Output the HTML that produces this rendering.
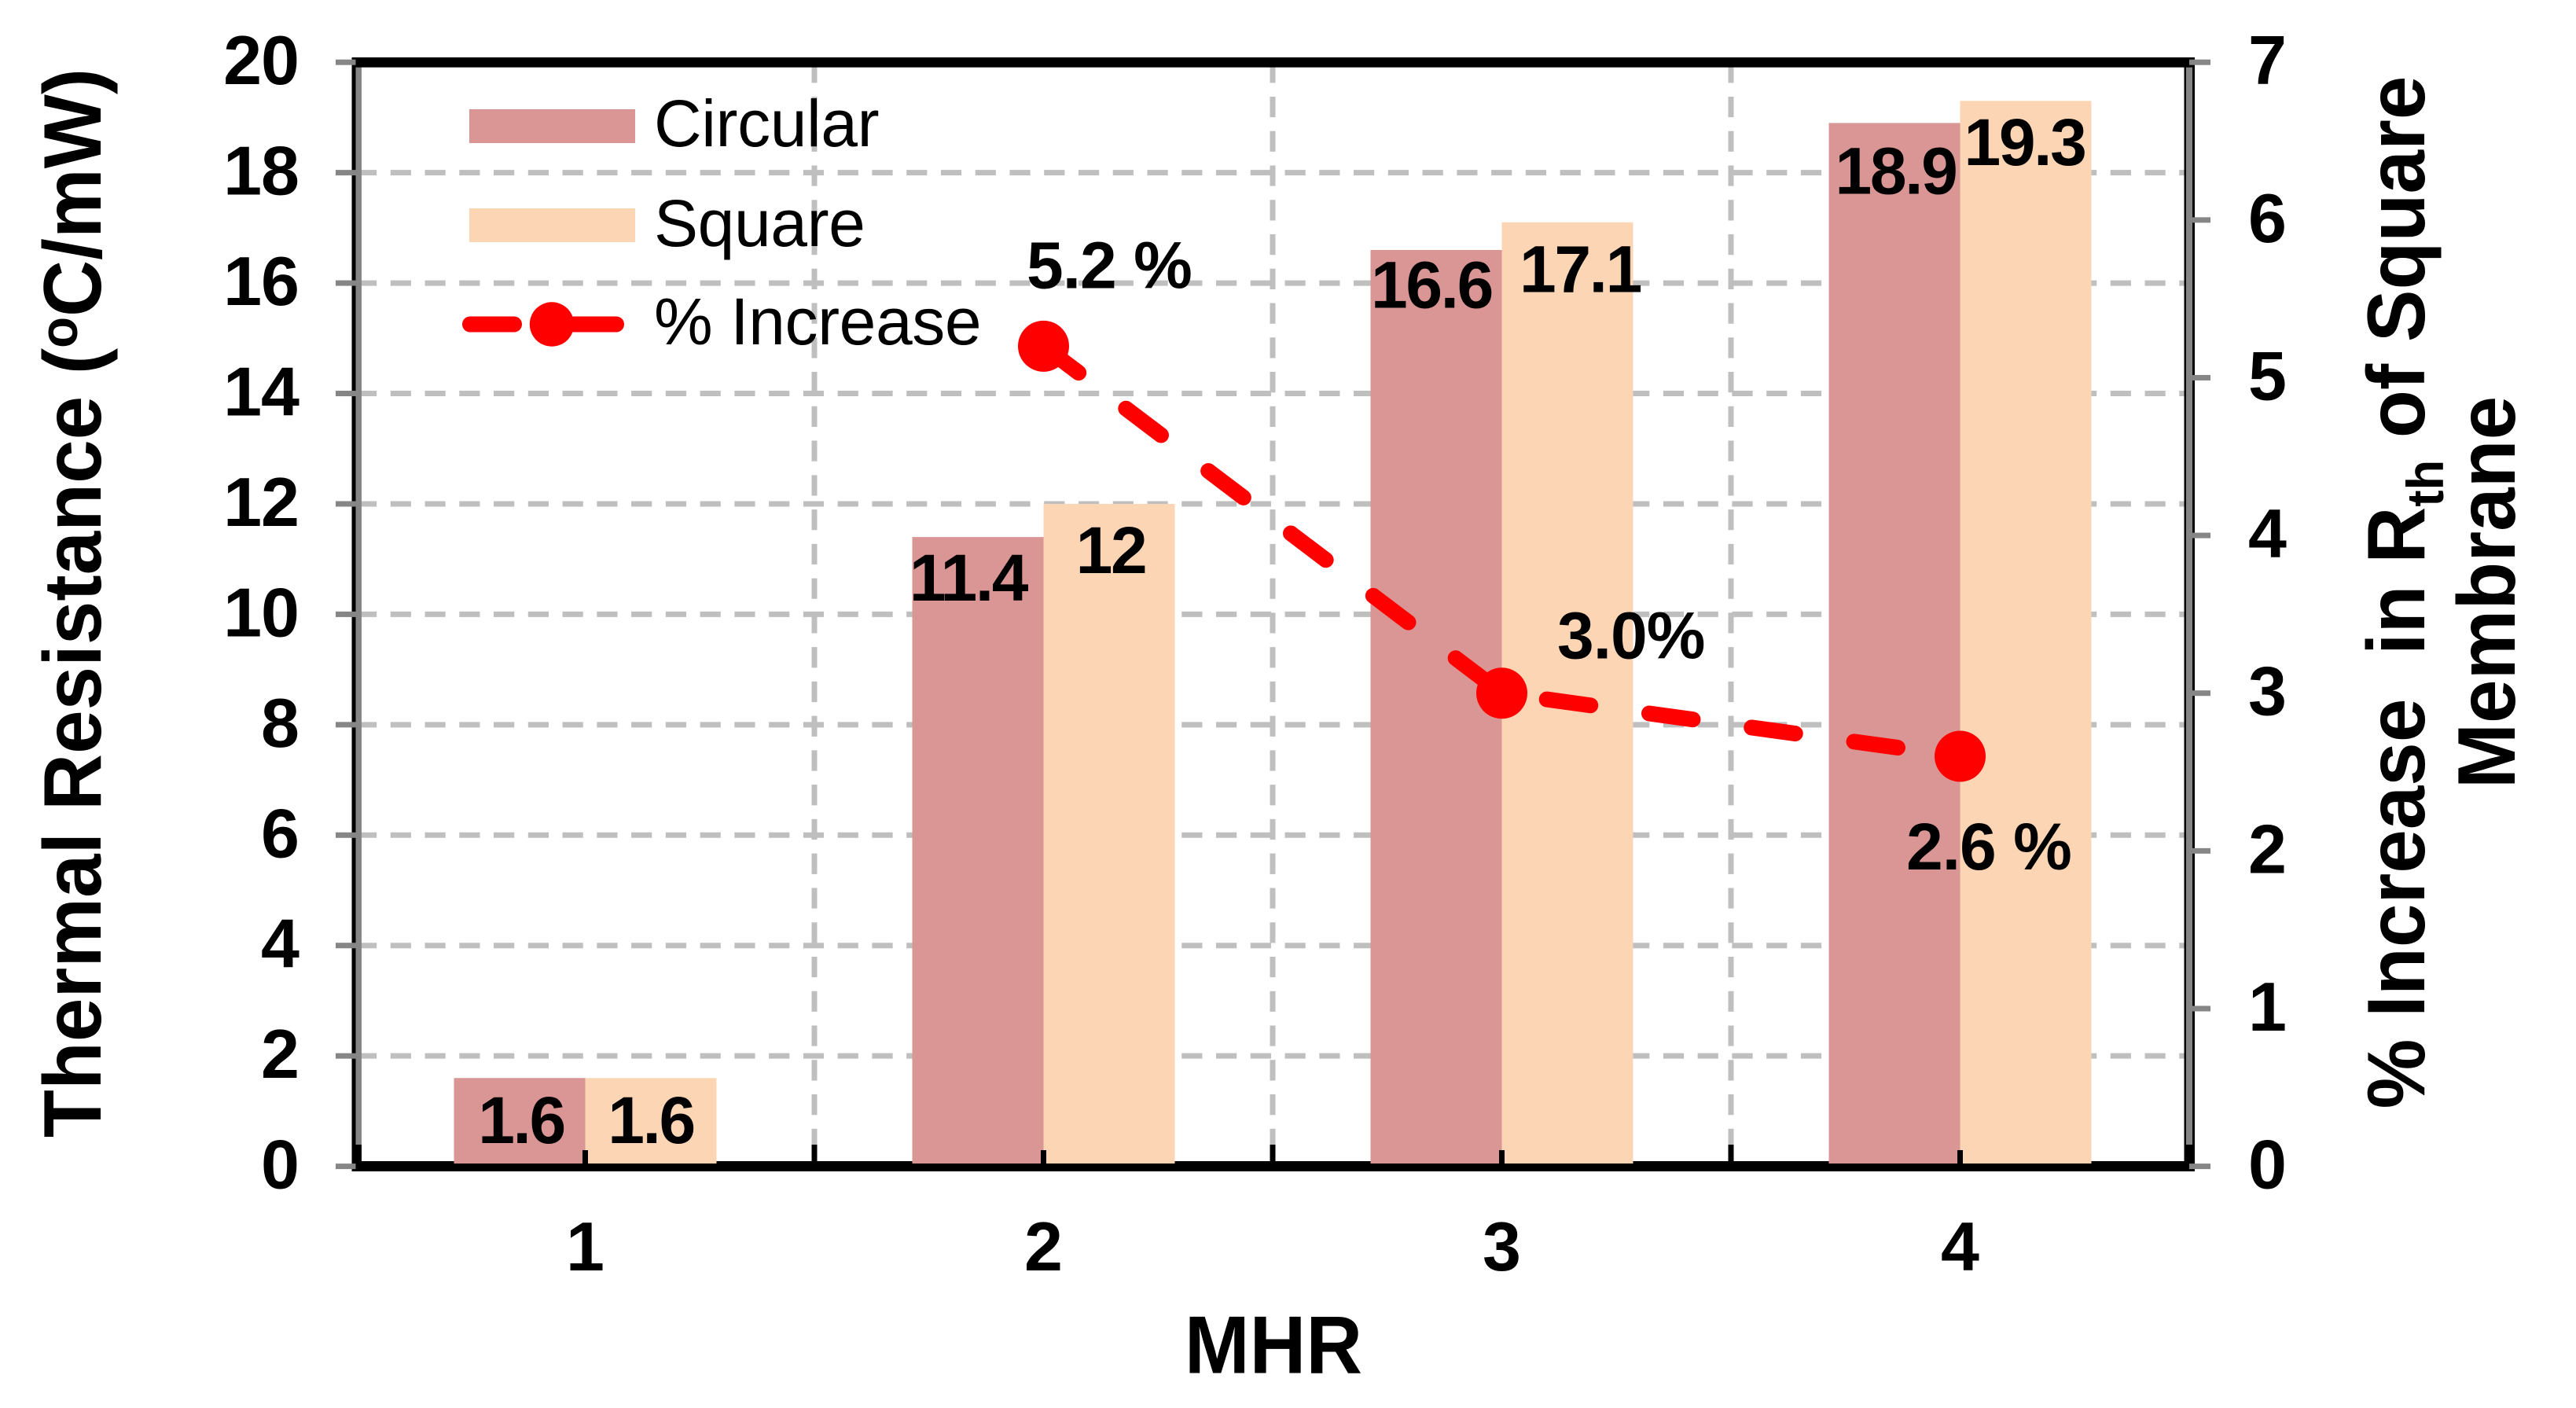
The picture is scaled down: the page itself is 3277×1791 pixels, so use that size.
<!DOCTYPE html>
<html>
<head>
<meta charset="utf-8">
<title>Thermal Resistance vs MHR</title>
<style>
html,body{margin:0;padding:0;background:#fff;}
svg{display:block;}
text{font-family:"Liberation Sans",Arial,sans-serif;fill:#000;white-space:pre;}
.b{font-weight:bold;}
</style>
</head>
<body>
<svg id="chart" xmlns="http://www.w3.org/2000/svg" width="3277" height="1791" viewBox="0 0 3277 1791">
  <rect x="0" y="0" width="3277" height="1791" fill="#fff"/>
  <g id="grid"></g>
  <g id="bars"></g>
  <g id="frame">
    <rect x="447.5" y="73" width="12.5" height="1417" fill="#000"/>
    <rect x="452.5" y="79" width="7.5" height="1377" fill="#868686"/>
    <rect x="2778.5" y="73" width="13.5" height="1417" fill="#000"/>
    <rect x="2781" y="79" width="8" height="1377" fill="#868686"/>
    <rect x="447.5" y="73" width="2344.5" height="12.7" fill="#000"/>
  </g>
  <g id="baseline"></g>
  <g id="ticks"></g>
  <g id="line"></g>
  <g id="labels"></g>

  <text class="b" font-size="104" text-anchor="middle" transform="translate(128 767) rotate(-90) scale(0.96 1)">Thermal Resistance (<tspan font-size="68" dy="-30">o</tspan><tspan dy="30">C/mW)</tspan></text>
  <text class="b" font-size="104" text-anchor="middle" transform="translate(1620 1746.7) scale(0.955 1)">MHR</text>
  <text class="b" font-size="104" text-anchor="middle" transform="translate(3084 753.5) rotate(-90) scale(0.96 1)">% Increase  in R<tspan font-size="66" dy="24">th</tspan><tspan dy="-24"> of Square</tspan></text>
  <text class="b" font-size="104" text-anchor="middle" transform="translate(3199 753.5) rotate(-90) scale(0.96 1)">Membrane</text>

  <g>
    <rect x="597" y="139" width="211" height="43" fill="#d99694"/>
    <text font-size="84" x="832" y="186" letter-spacing="-0.4">Circular</text>
    <rect x="597" y="265" width="211" height="43" fill="#fcd5b5"/>
    <text font-size="84" x="832" y="313" letter-spacing="-0.4">Square</text>
    <line x1="598" y1="412.5" x2="784" y2="412.5" stroke="#ff0000" stroke-width="20" stroke-linecap="round" stroke-dasharray="56 75.5"/>
    <circle cx="702" cy="412.5" r="28.2" fill="#ff0000"/>
    <text font-size="84" x="832" y="438" letter-spacing="-0.4">% Increase</text>
  </g>
</svg>

<script>
// ---- chart data ----
const categories = ['1', '2', '3', '4'];
const circularValues = [1.6, 11.4, 16.6, 18.9];
const squareValues = [1.6, 12, 17.1, 19.3];
const circularLabels = ['1.6', '11.4', '16.6', '18.9'];
const squareLabels = ['1.6', '12', '17.1', '19.3'];
const increaseCategories = [1, 2, 3];
const increaseValues = [5.2, 3.0, 2.6];
const increaseLabels = ['5.2 %', '3.0%', '2.6 %'];
const leftTickLabels = [0, 2, 4, 6, 8, 10, 12, 14, 16, 18, 20];
const rightTickLabels = [0, 1, 2, 3, 4, 5, 6, 7];

// ---- layout ----
const NS = 'http://www.w3.org/2000/svg';
const plotLeft = 453, plotRight = 2785, plotTop = 79.2, plotBottom = 1483.6;
const leftMax = 20, rightMax = 7;
const barWidth = 167;
const catWidth = (plotRight - plotLeft) / categories.length;
const yLeft = v => plotBottom - (v / leftMax) * (plotBottom - plotTop);
const yRight = v => plotBottom - (v / rightMax) * (plotBottom - plotTop);
const xCat = i => plotLeft + catWidth * (i + 0.5);
const xEdge = i => plotLeft + catWidth * i;

// hand placement of the printed labels relative to their marks, as in the source figure
const circNudge = [[2, 83], [-12.5, 81], [-6, 73.5], [1.5, 90]];
const squareNudge = [[0, 83], [2, 88], [16, 88.6], [-1.5, 81.4]];
const incNudge = [[-21.5, -74], [70.5, -44], [-68.5, 144]];

function mk(parent, tag, attrs, txt) {
  const el = document.createElementNS(NS, tag);
  for (const k in attrs) el.setAttribute(k, attrs[k]);
  if (txt !== undefined) el.textContent = txt;
  document.getElementById(parent).appendChild(el);
  return el;
}
let el;

// horizontal gridlines
leftTickLabels.forEach(v => {
  if (v === 0 || v === leftMax) return;
  el = mk('grid', 'line', {x1: plotLeft, x2: 2779, y1: yLeft(v), y2: yLeft(v), stroke: '#bfbfbf', 'stroke-width': 7, 'stroke-dasharray': '26.2 17.56'});
  
  
});

// vertical gridlines
for (let i = 1; i < categories.length; i++) {
  el = mk('grid', 'line', {x1: xEdge(i), x2: xEdge(i), y1: plotTop, y2: 1456, stroke: '#bfbfbf', 'stroke-width': 7, 'stroke-dasharray': '26.2 17.56'});
  
  
}

// x axis band
el = mk('baseline', 'rect', {x: 447.5, y: 1477, width: 2344.5, height: 13, fill: '#000'});



// bars
categories.forEach((c, i) => {
  const tc = yLeft(circularValues[i]);
  el = mk('bars', 'rect', {x: xCat(i) - barWidth, y: tc, width: barWidth, height: 1480 - tc, fill: '#d99694'});
  
  
  const ts = yLeft(squareValues[i]);
  el = mk('bars', 'rect', {x: xCat(i), y: ts, width: barWidth, height: 1480 - ts, fill: '#fcd5b5'});
  
  
});
// the x band is partly overlapped by the bars, so the bars go above it
document.getElementById('chart').insertBefore(document.getElementById('baseline'), document.getElementById('bars'));
document.getElementById('chart').insertBefore(document.getElementById('frame'), document.getElementById('bars'));

// y ticks left
leftTickLabels.forEach(v => {
  el = mk('ticks', 'rect', {x: 427, y: yLeft(v) - 3.5, width: 25.5, height: 7, fill: '#868686'});
  
  
  el = mk('labels', 'text', {x: 380, y: yLeft(v) + 28, 'font-size': 88, 'text-anchor': 'end', 'letter-spacing': -1, class: 'b'}, String(v));
  
  
});

// y ticks right
rightTickLabels.forEach(v => {
  el = mk('ticks', 'rect', {x: 2785, y: yRight(v) - 3.5, width: 27, height: 7, fill: '#868686'});
  
  
  el = mk('labels', 'text', {x: 2860, y: yRight(v) + 28, 'font-size': 88, class: 'b'}, String(v));
  
  
});

// black tick stubs at the baseline
for (let i = 0; i <= categories.length; i++) {
  const w = (i === 0 || i === categories.length) ? 12.5 : 7;
  el = mk('ticks', 'rect', {x: (i === 0 ? 447.5 : xEdge(i) - (i === categories.length ? 6.5 : 3.5)), y: 1456, width: w + (i === categories.length ? 1 : 0), height: 22, fill: '#000'});
  
  
}
categories.forEach((c, i) => {
  el = mk('ticks', 'rect', {x: xCat(i) - 3.5, y: 1463, width: 7, height: 17, fill: '#000'});
  
  
  el = mk('labels', 'text', {x: xCat(i), y: 1615.8, 'font-size': 88, 'text-anchor': 'middle', class: 'b'}, c);
  
  
});

// percent-increase line
const pts = increaseValues.map((v, i) => xCat(increaseCategories[i]) + ',' + yRight(v)).join(' ');
el = mk('line', 'polyline', {points: pts, fill: 'none', stroke: '#ff0000', 'stroke-width': 20, 'stroke-linecap': 'round', 'stroke-dasharray': '56 75.5'});


increaseValues.forEach((v, i) => {
  el = mk('line', 'circle', {cx: xCat(increaseCategories[i]), cy: yRight(v), r: 32.5, fill: '#ff0000'});
  
  
  el = mk('labels', 'text', {x: xCat(increaseCategories[i]) + incNudge[i][0], y: yRight(v) + incNudge[i][1], 'font-size': 84, 'letter-spacing': -1, class: 'b'}, increaseLabels[i]);
  
  
});

// bar labels
categories.forEach((c, i) => {
  el = mk('labels', 'text', {x: xCat(i) - barWidth / 2 + circNudge[i][0], y: yLeft(circularValues[i]) + circNudge[i][1], 'font-size': 84, 'letter-spacing': -2.4, 'text-anchor': 'middle', class: 'b'}, circularLabels[i]);
  
  
  el = mk('labels', 'text', {x: xCat(i) + barWidth / 2 + squareNudge[i][0], y: yLeft(squareValues[i]) + squareNudge[i][1], 'font-size': 84, 'letter-spacing': -2.4, 'text-anchor': 'middle', class: 'b'}, squareLabels[i]);
  
  
});
</script>
</body>
</html>
